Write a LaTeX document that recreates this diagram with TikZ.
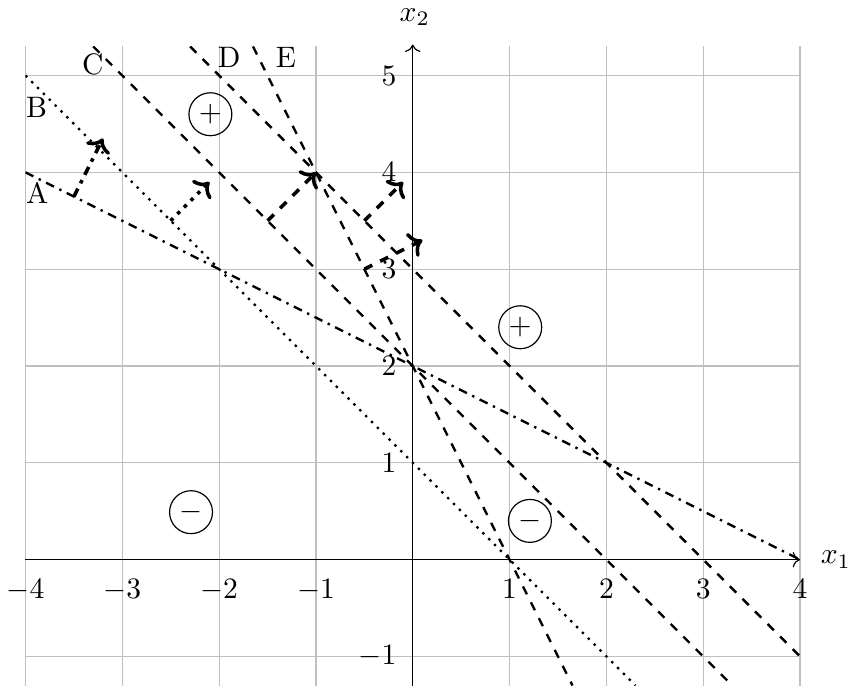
\documentclass[tikz,border=0pt]{standalone}
\usepackage{tikz}
\usetikzlibrary{arrows.meta}
\definecolor{gridgray}{HTML}{BFBFBF}

\begin{document}
\begin{tikzpicture}[
        x=1.15cm, y=1.15cm,
        font=\normalsize,
        gridline/.style={gridgray, line width=0.4pt},
        axisline/.style={black, line width=0.4pt, ->},
        bound/.style={black, thick},
        normal/.style={black, very thick, ->},
        xlbl/.style={anchor=north, yshift=-3pt},
        ylbl/.style={anchor=east, xshift=-2pt},
        linelbl/.style={anchor=west, inner sep=0pt},
        sign/.style={circle, draw, line width=0.4pt, minimum size=0.51cm,
                     inner sep=0pt}
    ]
        \useasboundingbox (-4.263,-1.33) rectangle (4.526,5.78);

        % --- Gitter ---
        \foreach \x in {-4,...,4}
            \draw[gridline] (\x,-1.3) -- (\x,5.3);
        \foreach \y in {-1,...,5}
            \draw[gridline] (-4,\y) -- (4,\y);

        % --- Achsen ---
        \draw[axisline] (-4,0) -- (4,0);
        \draw[axisline] (0,-1.3) -- (0,5.32);
        \node (xlab) at (4.37,0) {$x_1$};
        \node (ylab) at (0.02,5.6) {$x_2$};

        \foreach \x [count=\i] in {-4,-3,-2,-1,1,2,3,4}
            \node[xlbl] (tx\i) at (\x,0) {$\x$};
        \foreach \y [count=\i] in {-1,1,2,3,4,5}
            \node[ylbl] (ty\i) at (0,\y) {$\y$};

        % --- Trenngeraden ---
        \begin{scope}
            \clip (-4,-1.3) rectangle (4,5.3);
            \draw[bound, dashdotted] (-4,4) -- (4,0);
            \draw[bound, dotted] (-4,5) -- (2.3,-1.3);
            \draw[bound, dashed] (-3.3,5.3) -- (3.3,-1.3);
            \draw[bound, dashed] (-2.3,5.3) -- (4,-1);
            \draw[bound, dashed] (-1.65,5.3) -- (1.65,-1.3);
        \end{scope}

        \node[linelbl] (labA) at (-4,3.79) {A};
        \node[linelbl] (labB) at (-4,4.67) {B};
        \node[linelbl] (labC) at (-3.42,5.11) {C};
        \node[linelbl] (labD) at (-2.02,5.19) {D};
        \node[linelbl] (labE) at (-1.42,5.19) {E};

        % --- Normalenvektoren ---
        \draw[normal, dashdotted] (-3.5,3.75) -- (-3.2,4.35);
        \draw[normal, dotted] (-2.5,3.5) -- (-2.1,3.9);
        \draw[normal, dashed] (-1.5,3.5) -- (-1,4);
        \draw[normal, dashed] (-0.5,3.5) -- (-0.1,3.9);
        \draw[normal, dashed] (-0.5,3) -- (0.1,3.3);

        % --- Halbraeume ---
        \node[sign] (plusL) at (-2.09,4.6) {$+$};
        \node[sign] (plusR) at (1.11,2.4) {$+$};
        \node[sign] (minusL) at (-2.29,0.49) {$-$};
        \node[sign] (minusR) at (1.21,0.4) {$-$};
    \end{tikzpicture}
\end{document}
